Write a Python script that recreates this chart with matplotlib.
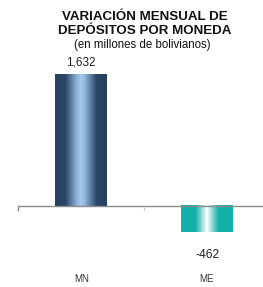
import numpy as np
import matplotlib.pyplot as plt
from matplotlib.colors import LinearSegmentedColormap

categorias = ['MN', 'ME']
valores = [1632, -462]
etiquetas = ['1,632', '-462']

plt.rcParams['font.family'] = ['Liberation Sans', 'DejaVu Sans']

fig = plt.figure(figsize=(2.63, 2.87), dpi=100)
# ejes desde x=18px hasta ~270px (la derecha queda cortada como en el original)
ax = fig.add_axes([18 / 263, 55 / 287, 252 / 263, 186.6 / 287])

ymin, ymax = -324, 2000
x = np.arange(len(categorias))
barras = ax.bar(x, valores, width=0.405, color='none', zorder=2)

# degradados de cada barra
mapas = [
    LinearSegmentedColormap.from_list('mn', [(0, '#26405f'), (0.2, '#2a4566'), (0.42, '#8fb3da'),
                                             (0.5, '#a6c8ec'), (0.58, '#8fb3da'), (0.8, '#2a4566'),
                                             (1, '#26405f')]),
    LinearSegmentedColormap.from_list('me', [(0, '#0fb0aa'), (0.28, '#14b0aa'), (0.5, '#ffffff'),
                                             (0.72, '#14b0aa'), (1, '#0fb0aa')]),
]
grad = np.linspace(0, 1, 256).reshape(1, -1)
for b, cmap in zip(barras, mapas):
    x0, y0 = b.get_x(), b.get_y()
    w, h = b.get_width(), b.get_height()
    lo = max(min(y0, y0 + h), ymin)
    hi = min(max(y0, y0 + h), ymax)
    ax.imshow(grad, cmap=cmap, aspect='auto', zorder=2, extent=[x0, x0 + w, lo, hi])
ax.set_xlim(-0.5, 1.5)
ax.set_ylim(ymin, ymax)

# línea del cero y marcas
ax.axhline(0, color='#8c8c8c', lw=1, zorder=3)
ax.plot([-0.5, -0.5], [0, -50], color='#8c8c8c', lw=1, zorder=3, clip_on=False)
ax.plot([0.5, 0.5], [-10, -50], color='#d0d0d0', lw=1, zorder=3, clip_on=False)

for sp in ax.spines.values():
    sp.set_visible(False)
ax.set_xticks([])
ax.set_yticks([])

# etiquetas de valores y categorías
ax.text(0, 1632 + 150, etiquetas[0], ha='center', va='center', fontsize=8.5, color='#222222')
fig.text(208 / 263, 1 - 255 / 287, etiquetas[1], ha='center', va='center', fontsize=8.8, color='#222222')
for xc, cat in zip([82, 207], categorias):
    fig.text(xc / 263, 1 - 279 / 287, cat, ha='center', va='center', fontsize=7, color='#333333')

fig.text(145 / 263, 1 - 24 / 287, 'VARIACIÓN MENSUAL DE\nDEPÓSITOS POR MONEDA', ha='center', va='center',
         fontsize=9.6, fontweight='bold', linespacing=1.25, color='#111111')
fig.text(142 / 263, 1 - 45 / 287, '(en millones de bolivianos)', ha='center', va='center',
         fontsize=8.3, color='#111111')

fig.savefig('out.png', dpi=100)
